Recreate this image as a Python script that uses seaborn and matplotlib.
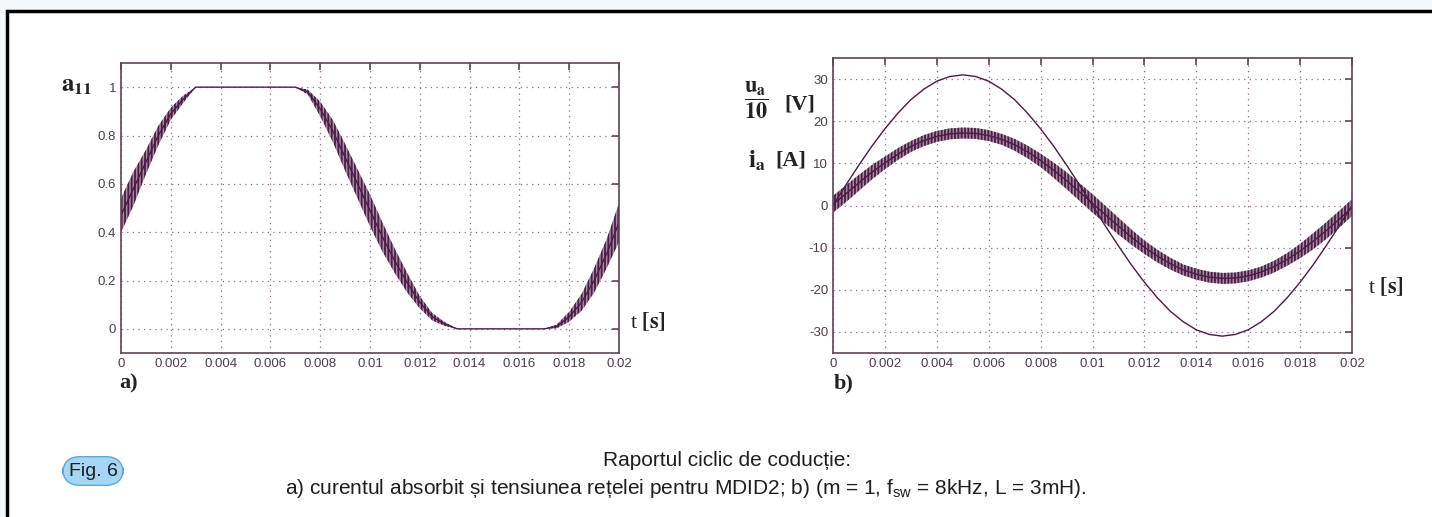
"""Fig. 6 - duty cycle a11 and grid voltage / absorbed current for MDID2."""

import matplotlib.pyplot as plt
import numpy as np
import seaborn as sns
from matplotlib.patches import Rectangle

# sample instants in ms (0 .. 20 ms, every 0.5 ms)
t_ms = np.linspace(0, 20, 41)

# panel a) duty cycle a11: centre of the trace and half-width of the PWM ripple band
a11_mid = [0.47, 0.58, 0.69, 0.80, 0.89, 0.95, 1.00, 1.00, 1.00, 1.00,
           1.00, 1.00, 1.00, 1.00, 1.00, 0.98, 0.91, 0.82, 0.71, 0.60,
           0.49, 0.38, 0.28, 0.19, 0.11, 0.05, 0.02, 0.00, 0.00, 0.00,
           0.00, 0.00, 0.00, 0.00, 0.00, 0.01, 0.05, 0.11, 0.20, 0.31,
           0.44]
a11_rip = [0.07, 0.07, 0.05, 0.04, 0.025, 0.015, 0.0, 0.0, 0.0, 0.0,
           0.0, 0.0, 0.0, 0.0, 0.0, 0.01, 0.03, 0.045, 0.055, 0.06,
           0.065, 0.06, 0.05, 0.04, 0.025, 0.015, 0.008, 0.0, 0.0, 0.0,
           0.0, 0.0, 0.0, 0.0, 0.0, 0.008, 0.02, 0.035, 0.05, 0.06,
           0.08]

# panel b) u_a/10 [V] and i_a [A]
ua_10 = [0.0, 4.9, 9.6, 14.1, 18.2, 21.9, 25.1, 27.6, 29.5, 30.6,
         31.0, 30.6, 29.5, 27.6, 25.1, 21.9, 18.2, 14.1, 9.6, 4.9,
         0.0, -4.9, -9.6, -14.1, -18.2, -21.9, -25.1, -27.6, -29.5, -30.6,
         -31.0, -30.6, -29.5, -27.6, -25.1, -21.9, -18.2, -14.1, -9.6, -4.9,
         0.0]
ia_mid = [0.3, 2.8, 5.4, 7.9, 10.1, 12.2, 14.0, 15.4, 16.4, 17.0,
          17.2, 17.1, 16.6, 15.7, 14.4, 12.7, 10.7, 8.4, 5.9, 3.2,
          0.5, -2.2, -4.9, -7.5, -9.9, -12.0, -13.8, -15.3, -16.3, -17.0,
          -17.3, -17.2, -16.7, -15.8, -14.5, -12.8, -10.8, -8.5, -6.0, -3.3,
          -0.5]
ia_rip = [2.0, 2.0, 1.9, 1.7, 1.5, 1.4, 1.3, 1.3, 1.3, 1.3,
          1.3, 1.3, 1.3, 1.3, 1.4, 1.5, 1.6, 1.8, 2.0, 2.1,
          2.2, 2.1, 2.0, 1.8, 1.6, 1.5, 1.4, 1.3, 1.3, 1.3,
          1.3, 1.3, 1.3, 1.3, 1.4, 1.5, 1.7, 1.9, 2.0, 2.0,
          2.0]

x_ticks = [0, 0.002, 0.004, 0.006, 0.008, 0.01, 0.012, 0.014, 0.016, 0.018, 0.02]
x_labels = ["0", "0.002", "0.004", "0.006", "0.008", "0.01",
            "0.012", "0.014", "0.016", "0.018", "0.02"]
a_yticks = [0, 0.2, 0.4, 0.6, 0.8, 1.0]
a_ylabels = ["0", "0.2", "0.4", "0.6", "0.8", "1"]
b_yticks = [-30, -20, -10, 0, 10, 20, 30]
b_ylabels = ["-30", "-20", "-10", "0", "10", "20", "30"]

LINE = "#4a1c44"
BAND = "#a98aa4"
AXC = "#5b4658"
GRID = "#8c6c89"
PAGE = "#f4f8fa"

sns.set_style("white")
plt.rcParams["font.family"] = ["Liberation Sans", "DejaVu Sans"]
plt.rcParams["axes.unicode_minus"] = False
plt.rcParams["mathtext.fontset"] = "custom"
plt.rcParams["mathtext.rm"] = "Liberation Sans"
plt.rcParams["hatch.linewidth"] = 1.3

t_s = t_ms / 1000.0

fig = plt.figure(figsize=(14.32, 5.17), dpi=100, facecolor=PAGE)
frame = Rectangle((7 / 1432, -0.05), 1.1, 1 - 11 / 517 + 0.05,
                  transform=fig.transFigure, facecolor="white",
                  edgecolor="black", linewidth=2.5, zorder=-10)
fig.add_artist(frame)

ax_a = fig.add_axes([121 / 1432, 1 - 353 / 517, 498 / 1432, 290 / 517])
ax_b = fig.add_axes([833 / 1432, 1 - 353 / 517, 519 / 1432, 295 / 517])


def style_axes(ax, yticks, ylabels, ylim):
    ax.set_xlim(0, 0.02)
    ax.set_ylim(*ylim)
    ax.set_xticks(x_ticks)
    ax.set_xticklabels(x_labels)
    ax.set_yticks(yticks)
    ax.set_yticklabels(ylabels)
    ax.set_xlabel("")
    ax.set_ylabel("")
    ax.set_facecolor("white")
    ax.grid(True, color=GRID, linestyle=(0, (1, 3.5)), linewidth=0.9)
    ax.tick_params(direction="in", length=5, width=1.2, color=AXC,
                   top=True, right=True, labelcolor="#4e3c4c",
                   labelsize=9.5, pad=3.5)
    for sp in ax.spines.values():
        sp.set_color(AXC)
        sp.set_linewidth(1.2)


def ripple_band(ax, mid, rip):
    # PWM ripple drawn as a hatched band between the read envelopes
    lo = np.array(mid) - np.array(rip)
    hi = np.array(mid) + np.array(rip)
    ax.fill_between(t_s, lo, hi, facecolor=BAND, edgecolor=LINE,
                    hatch="|||||", linewidth=0)


# a) duty cycle
ripple_band(ax_a, a11_mid, a11_rip)
sns.lineplot(x=t_s, y=a11_mid, ax=ax_a, color=LINE, linewidth=1.0)
style_axes(ax_a, a_yticks, a_ylabels, (-0.1, 1.1))

# b) voltage and current
ripple_band(ax_b, ia_mid, ia_rip)
sns.lineplot(x=t_s, y=ia_mid, ax=ax_b, color=LINE, linewidth=1.0)
sns.lineplot(x=t_s, y=ua_10, ax=ax_b, color=LINE, linewidth=1.0)
style_axes(ax_b, b_yticks, b_ylabels, (-35, 35))

serif = dict(family="Liberation Serif", color="#222222", math_fontfamily="stix")

fig.text(61 / 1432, 1 - 86 / 517, r"$\mathbf{a_{11}}$", fontsize=18,
         va="center", ha="left", **serif)
fig.text(630 / 1432, 1 - 322 / 517, r"t $\mathbf{[s]}$", fontsize=16,
         va="center", ha="left", **serif)
fig.text(119 / 1432, 1 - 383 / 517, "a)", fontsize=16, weight="bold",
         va="center", ha="left", **serif)

fig.text(744 / 1432, 1 - 100 / 517, r"$\dfrac{\mathbf{u_a}}{\mathbf{10}}$",
         fontsize=16, va="center", ha="left", **serif)
fig.text(784 / 1432, 1 - 104 / 517, "[V]", fontsize=16, weight="bold",
         va="center", ha="left", **serif)
fig.text(748 / 1432, 1 - 161 / 517, r"$\mathbf{i_a}$", fontsize=18,
         va="center", ha="left", **serif)
fig.text(775 / 1432, 1 - 161 / 517, "[A]", fontsize=16, weight="bold",
         va="center", ha="left", **serif)
fig.text(1368 / 1432, 1 - 287 / 517, r"t $\mathbf{[s]}$", fontsize=16,
         va="center", ha="left", **serif)
fig.text(834 / 1432, 1 - 383 / 517, "b)", fontsize=16, weight="bold",
         va="center", ha="left", **serif)

# caption
fig.text(727 / 1432, 1 - 461 / 517, "Raportul ciclic de coducție:",
         fontsize=15, ha="center", va="center", color="#1e1e1e")
fig.text(686 / 1432, 1 - 488 / 517,
         r"a) curentul absorbit și tensiunea rețelei pentru MDID2; b) "
         r"(m = 1, f$_{\mathrm{sw}}$ = 8kHz, L = 3mH).",
         fontsize=15, ha="center", va="center", color="#1e1e1e")
fig.text(93 / 1432, 1 - 471 / 517, "Fig. 6", fontsize=14, ha="center",
         va="center", color="#1e1e1e",
         bbox=dict(boxstyle="round,pad=0.3,rounding_size=0.9",
                   facecolor="#a6d6f4", edgecolor="#5aa8dd", linewidth=1.0))

fig.savefig("out.png", dpi=100, facecolor=PAGE)
